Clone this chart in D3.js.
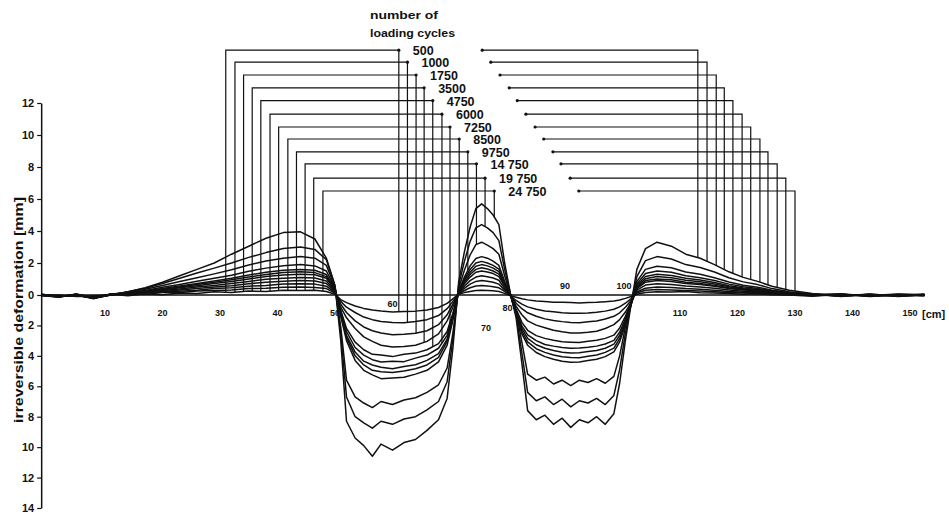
<!DOCTYPE html>
<html>
<head>
<meta charset="utf-8">
<title>Irreversible deformation vs. number of loading cycles</title>
<script src="https://d3js.org/d3.v7.min.js"></script>
<style>
  body { margin: 0; background: #fff; }
  svg text { font-family: "Liberation Sans", Arial, sans-serif; font-weight: bold; fill: #111; }
  .curve { fill: none; stroke: #111; stroke-width: 1.5; stroke-linejoin: round; }
  .leader { fill: none; stroke: #111; stroke-width: 1.2; }
</style>
</head>
<body>
<div id="chart"></div>
<script>
const width = 949;
const height = 525;

// legend labels (number of loading cycles)
const cycles = ["500", "1000", "1750", "3500", "4750", "6000", "7250", "8500", "9750", "14 750", "19 750", "24 750"];

// measuring positions along the track [cm]
const positionCm = [-1, 2, 5, 8, 11, 14, 17, 20, 23, 26, 29, 32, 35, 38, 41, 44, 46.5, 48.5, 50,
  51, 52, 53.5, 55, 56.5, 58, 60, 62, 64, 66, 68, 69.5, 70.5,
  71.5, 72.5, 73.5, 74.5, 75.5, 76.5, 77.5, 78.5, 79.5, 80.5,
  81.5, 82.5, 83.5, 85, 86.5, 88, 89.5, 91, 92.5, 94, 95.5, 97, 98.5, 99.5, 100.5, 101.5,
  102.5, 104, 106, 108.5, 111, 113.5, 116, 118.5, 121, 123.5, 126, 129, 133, 138, 143, 148, 152.5];

// irreversible deformation [mm], + = heave, - = settlement
const d500 = [0.05, -0.1, 0.0, -0.15, 0.05, -0.05, 0.08, 0.02, 0.12, 0.1, 0.2, 0.15, 0.25, 0.22, 0.3, 0.28, 0.3, 0.22, 0.05,
  -0.3, -0.5, -0.72, -0.88, -0.98, -1.05, -1.12, -1.08, -1.06, -0.98, -0.82, -0.55, -0.25,
  0.05, 0.15, 0.22, 0.28, 0.3, 0.28, 0.26, 0.22, 0.1, -0.05,
  -0.15, -0.25, -0.32, -0.4, -0.42, -0.47, -0.48, -0.5, -0.52, -0.49, -0.48, -0.44, -0.4, -0.33, -0.22, -0.1,
  0.05, 0.15, 0.2, 0.18, 0.22, 0.14, 0.12, 0.1, 0.05, 0.08, 0.02, 0.0, -0.08, 0.05, -0.1, 0.0, 0.05];
const d1000 = [-0.05, 0.0, -0.1, -0.05, 0.0, 0.06, 0.05, 0.15, 0.15, 0.25, 0.28, 0.32, 0.4, 0.42, 0.48, 0.5, 0.47, 0.4, 0.12,
  -0.42, -0.8, -1.15, -1.45, -1.62, -1.74, -1.8, -1.82, -1.74, -1.62, -1.35, -0.9, -0.42,
  0.08, 0.28, 0.45, 0.56, 0.6, 0.57, 0.52, 0.45, 0.22, -0.05,
  -0.36, -0.6, -0.78, -0.94, -1.05, -1.1, -1.17, -1.2, -1.2, -1.18, -1.14, -1.06, -0.94, -0.78, -0.54, -0.24,
  0.12, 0.3, 0.35, 0.32, 0.28, 0.25, 0.2, 0.16, 0.12, 0.1, 0.06, 0.02, 0.04, -0.08, 0.02, -0.06, 0.0];
const d1750 = [0.0, -0.12, 0.05, -0.2, 0.05, 0.05, 0.12, 0.18, 0.24, 0.3, 0.4, 0.45, 0.55, 0.6, 0.68, 0.7, 0.68, 0.55, 0.15,
  -0.6, -1.15, -1.7, -2.1, -2.35, -2.5, -2.62, -2.58, -2.52, -2.35, -1.95, -1.3, -0.6,
  0.1, 0.42, 0.68, 0.85, 0.9, 0.86, 0.8, 0.68, 0.32, -0.02,
  -0.54, -0.9, -1.17, -1.4, -1.57, -1.67, -1.75, -1.8, -1.82, -1.76, -1.71, -1.58, -1.4, -1.17, -0.81, -0.36,
  0.2, 0.42, 0.5, 0.47, 0.4, 0.36, 0.3, 0.22, 0.17, 0.14, 0.08, 0.05, -0.05, 0.04, -0.08, 0.02, -0.04];
const d3500 = [0.02, -0.05, -0.08, -0.12, 0.05, 0.08, 0.12, 0.22, 0.32, 0.4, 0.5, 0.58, 0.7, 0.8, 0.86, 0.9, 0.88, 0.72, 0.2,
  -0.8, -1.5, -2.2, -2.75, -3.05, -3.3, -3.42, -3.38, -3.3, -3.05, -2.55, -1.7, -0.8,
  0.12, 0.55, 0.9, 1.12, 1.2, 1.14, 1.06, 0.92, 0.42, 0.0,
  -0.75, -1.3, -1.7, -1.98, -2.15, -2.32, -2.42, -2.5, -2.5, -2.45, -2.38, -2.2, -1.95, -1.62, -1.12, -0.5,
  0.3, 0.62, 0.7, 0.66, 0.56, 0.5, 0.42, 0.32, 0.24, 0.19, 0.12, 0.06, 0.02, -0.06, 0.05, -0.1, 0.03];
const d4750 = [-0.05, -0.1, 0.02, -0.18, 0.02, 0.1, 0.18, 0.28, 0.38, 0.5, 0.6, 0.72, 0.85, 0.98, 1.05, 1.1, 1.06, 0.88, 0.25,
  -1.0, -2.2, -3.1, -3.6, -3.9, -3.95, -4.05, -3.9, -3.82, -3.6, -3.2, -2.4, -1.2,
  0.15, 0.7, 1.12, 1.42, 1.5, 1.44, 1.34, 1.15, 0.55, 0.02,
  -0.93, -1.8, -2.32, -2.67, -2.85, -2.98, -3.07, -3.1, -3.12, -3.04, -2.98, -2.85, -2.64, -2.17, -1.4, -0.47,
  0.4, 0.8, 0.9, 0.85, 0.72, 0.65, 0.54, 0.4, 0.31, 0.24, 0.15, 0.08, 0.0, 0.06, -0.05, 0.0, -0.06];
const d6000 = [0.03, -0.08, 0.0, -0.22, 0.06, 0.1, 0.2, 0.32, 0.45, 0.58, 0.72, 0.85, 1.0, 1.15, 1.25, 1.3, 1.26, 1.05, 0.3,
  -1.1, -2.4, -3.45, -3.95, -4.25, -4.4, -4.35, -4.38, -4.15, -3.95, -3.5, -2.65, -1.3,
  0.18, 0.8, 1.28, 1.6, 1.7, 1.62, 1.5, 1.3, 0.62, 0.0,
  -1.05, -2.03, -2.62, -3.0, -3.25, -3.36, -3.45, -3.5, -3.48, -3.43, -3.36, -3.22, -2.98, -2.45, -1.58, -0.53,
  0.45, 0.9, 1.0, 0.95, 0.8, 0.72, 0.6, 0.45, 0.34, 0.27, 0.17, 0.09, 0.05, -0.04, 0.03, -0.08, 0.02];
const d7250 = [-0.02, -0.12, 0.04, -0.15, 0.04, 0.12, 0.22, 0.36, 0.5, 0.65, 0.8, 0.95, 1.12, 1.28, 1.4, 1.45, 1.4, 1.15, 0.35,
  -1.2, -2.65, -3.75, -4.35, -4.6, -4.75, -4.85, -4.7, -4.58, -4.3, -3.85, -2.9, -1.45,
  0.2, 0.9, 1.42, 1.8, 1.9, 1.82, 1.68, 1.46, 0.7, 0.03,
  -1.14, -2.2, -2.85, -3.27, -3.5, -3.65, -3.76, -3.82, -3.8, -3.72, -3.65, -3.5, -3.23, -2.66, -1.71, -0.57,
  0.52, 1.02, 1.15, 1.08, 0.92, 0.83, 0.69, 0.52, 0.39, 0.31, 0.2, 0.1, 0.0, 0.05, -0.06, 0.04, 0.0];
const d8500 = [0.0, -0.06, -0.04, -0.2, 0.0, 0.13, 0.24, 0.4, 0.56, 0.72, 0.88, 1.05, 1.25, 1.42, 1.55, 1.6, 1.55, 1.28, 0.4,
  -1.3, -2.8, -4.0, -4.6, -4.95, -5.05, -5.1, -5.0, -4.85, -4.6, -4.1, -3.05, -1.55,
  0.22, 1.0, 1.6, 2.0, 2.1, 2.0, 1.85, 1.62, 0.76, 0.02,
  -1.23, -2.38, -3.08, -3.53, -3.77, -3.94, -4.06, -4.1, -4.12, -4.02, -3.94, -3.77, -3.49, -2.87, -1.85, -0.62,
  0.6, 1.15, 1.3, 1.22, 1.04, 0.94, 0.78, 0.58, 0.44, 0.35, 0.22, 0.12, 0.04, -0.05, 0.02, -0.04, 0.05];
const d9750 = [0.04, -0.1, 0.02, -0.25, 0.03, 0.15, 0.28, 0.48, 0.66, 0.86, 1.05, 1.24, 1.48, 1.68, 1.83, 1.9, 1.82, 1.5, 0.45,
  -1.4, -3.0, -4.3, -4.95, -5.25, -5.5, -5.45, -5.4, -5.2, -4.95, -4.4, -3.3, -1.65,
  0.25, 1.12, 1.82, 2.28, 2.4, 2.3, 2.12, 1.85, 0.86, 0.04,
  -1.32, -2.55, -3.3, -3.78, -4.05, -4.22, -4.36, -4.42, -4.4, -4.31, -4.22, -4.05, -3.74, -3.08, -1.98, -0.66,
  0.7, 1.35, 1.5, 1.42, 1.2, 1.08, 0.9, 0.68, 0.51, 0.4, 0.26, 0.14, 0.02, 0.04, -0.06, 0.02, -0.02];
const d14750 = [-0.03, -0.14, 0.06, -0.18, 0.05, 0.18, 0.36, 0.6, 0.85, 1.08, 1.32, 1.58, 1.88, 2.12, 2.3, 2.4, 2.3, 1.85, 0.5,
  -2.1, -5.6, -6.7, -7.1, -7.4, -7.0, -7.2, -6.9, -6.75, -6.4, -5.9, -4.8, -2.5,
  0.4, 1.55, 2.5, 3.15, 3.3, 3.12, 2.9, 2.55, 1.2, 0.05,
  -1.1, -3.1, -5.2, -5.6, -5.4, -5.85, -5.6, -5.95, -5.6, -5.75, -5.5, -5.8, -5.35, -4.0, -2.1, -0.45,
  0.85, 1.6, 1.8, 1.7, 1.44, 1.3, 1.08, 0.81, 0.61, 0.49, 0.3, 0.16, 0.06, -0.04, 0.04, -0.05, 0.03];
const d19750 = [0.02, -0.08, 0.0, -0.22, 0.0, 0.2, 0.42, 0.72, 1.05, 1.38, 1.68, 2.0, 2.35, 2.65, 2.9, 3.0, 2.85, 2.2, 0.55,
  -2.5, -6.7, -8.0, -8.4, -8.75, -8.3, -8.5, -8.15, -8.0, -7.55, -7.0, -5.7, -2.9,
  0.6, 2.1, 3.35, 4.2, 4.4, 4.2, 3.9, 3.4, 1.6, 0.08,
  -1.3, -3.8, -6.4, -6.95, -6.7, -7.2, -6.85, -7.35, -6.95, -7.1, -6.8, -7.2, -6.6, -4.9, -2.5, -0.5,
  1.15, 2.15, 2.4, 2.25, 1.9, 1.72, 1.44, 1.08, 0.82, 0.65, 0.4, 0.2, 0.05, 0.02, -0.04, 0.06, 0.0];
const d24750 = [0.0, -0.15, 0.05, -0.2, 0.0, 0.2, 0.45, 0.8, 1.2, 1.6, 2.0, 2.55, 3.05, 3.55, 3.9, 3.95, 3.5, 2.3, 0.6,
  -3.0, -8.3, -9.4, -9.9, -10.6, -9.8, -10.2, -9.7, -9.5, -8.9, -8.2, -6.8, -3.5,
  0.8, 2.7, 4.25, 5.4, 5.7, 5.4, 5.0, 4.4, 2.0, 0.1,
  -1.5, -4.5, -7.6, -8.2, -7.9, -8.5, -8.1, -8.7, -8.2, -8.4, -8.0, -8.5, -7.8, -5.8, -3.0, -0.6,
  1.6, 2.9, 3.3, 3.05, 2.55, 2.3, 1.9, 1.45, 1.1, 0.85, 0.55, 0.3, 0.1, -0.1, 0.05, -0.05, 0.0];

const profiles = [d500, d1000, d1750, d3500, d4750, d6000, d7250, d8500, d9750, d14750, d19750, d24750];

// axis ticks
const yTicks = [12, 10, 8, 6, 4, 2, 0, -2, -4, -6, -8, -10, -12, -14];
const xTicks = [10, 20, 30, 40, 50, 60, 70, 80, 90, 100, 110, 120, 130, 140, 150];

// leader lines from the legend to the curves (level in mm, stations in cm)
const leaderLevel = [15.3, 14.55, 13.75, 12.95, 12.15, 11.3, 10.5, 9.75, 8.95, 8.2, 7.3, 6.5];
const leftLeaderCm = [31.0, 32.6, 34.1, 35.6, 37.1, 38.7, 40.2, 41.8, 43.3, 44.8, 46.3, 47.9];
const midLeaderCm = [61.1, 62.6, 64.1, 65.5, 67.0, 68.6, 70.0, 71.6, 73.1, 74.6, 76.1, 77.7];
const rightStartCm = [75.6, 77.1, 78.7, 80.3, 81.7, 83.2, 84.8, 86.3, 87.9, 89.3, 90.9, 92.4];
const rightLeaderCm = [113.1, 114.7, 116.3, 117.7, 119.2, 120.8, 122.3, 123.9, 125.3, 126.9, 128.4, 130.0];

const x = d3.scaleLinear().domain([0, 150]).range([47.5, 910]);
// the scanned axis is slightly stretched below zero
const y = d3.scaleLinear().domain([12, 0, -14]).range([103, 295, 508]);

const svg = d3.select('#chart')
  .append('svg')
  .attr('width', width)
  .attr('height', height);

// y axis
const yAxis = d3.axisLeft(y)
  .tickValues(yTicks)
  .tickFormat(d => Math.abs(d))
  .tickSize(4)
  .tickSizeOuter(0)
  .tickPadding(3);

const yg = svg.append('g')
  .attr('transform', `translate(${x(-1.1)},0)`)
  .call(yAxis);
yg.select('.domain').attr('stroke', '#111').attr('stroke-width', 1.5);
yg.selectAll('.tick line').attr('stroke', '#111').attr('stroke-width', 1.2);
yg.selectAll('.tick text')
  .attr('fill', '#111')
  .style('font-size', '11px')
  .style('font-weight', 'bold')
  .style('font-family', '"Liberation Sans", Arial, sans-serif');

svg.append('text')
  .attr('transform', 'translate(23,310) rotate(-90)')
  .attr('text-anchor', 'middle')
  .attr('textLength', 226)
  .attr('lengthAdjust', 'spacingAndGlyphs')
  .style('font-size', '13px')
  .text('irreversible deformation [mm]');

// zero line (x axis)
svg.append('line')
  .attr('x1', x(-1.1)).attr('x2', x(152.5))
  .attr('y1', y(0)).attr('y2', y(0))
  .attr('stroke', '#111')
  .attr('stroke-width', 1.6);

// x tick labels, some moved off the curves as on the original drawing
const xLabelShift = {60: [0, -9], 70: [36, 15], 80: [0, -5], 90: [0, -27], 100: [1.5, -27]};
svg.append('g')
  .selectAll('text')
  .data(xTicks)
  .join('text')
  .attr('x', d => x(d) + (xLabelShift[d] ? xLabelShift[d][0] : 0))
  .attr('y', d => y(0) + 21 + (xLabelShift[d] ? xLabelShift[d][1] : 0))
  .attr('text-anchor', 'middle')
  .style('font-size', '9px')
  .text(d => d);

svg.append('text')
  .attr('x', x(150) + 12)
  .attr('y', y(0) + 23)
  .style('font-size', '11px')
  .text('[cm]');

// curves
const line = d3.line()
  .x((d, i) => x(positionCm[i]))
  .y(d => y(d));

svg.append('g')
  .selectAll('path')
  .data(profiles)
  .join('path')
  .attr('class', 'curve')
  .attr('d', line);

// value of a curve at any station
const valueAt = (series, cm) => d3.scaleLinear(positionCm, series)(cm);

// leaders
const lead = svg.append('g');
cycles.forEach((label, i) => {
  const lv = y(leaderLevel[i]);
  const xl = x(leftLeaderCm[i]);
  const xm = x(midLeaderCm[i]);
  lead.append('path')
    .attr('class', 'leader')
    .attr('d', `M${xl},${y(valueAt(profiles[0], leftLeaderCm[i]))}V${lv}H${xm}V${y(valueAt(profiles[i], midLeaderCm[i]))}`);
  lead.append('circle').attr('cx', xm).attr('cy', lv).attr('r', 1.6).attr('fill', '#111');

  const xs = x(rightStartCm[i]);
  const xr = x(rightLeaderCm[i]);
  lead.append('path')
    .attr('class', 'leader')
    .attr('d', `M${xs},${lv}H${xr}V${y(valueAt(profiles[11], rightLeaderCm[i]))}`);
  lead.append('circle').attr('cx', xs).attr('cy', lv).attr('r', 1.6).attr('fill', '#111');

  lead.append('text')
    .attr('x', xm + 14)
    .attr('y', lv + 5)
    .style('font-size', '12.5px')
    .text(label);
});

// legend title
svg.append('text')
  .attr('x', 370).attr('y', 19)
  .attr('textLength', 68)
  .attr('lengthAdjust', 'spacingAndGlyphs')
  .style('font-size', '11px')
  .text('number  of');
svg.append('text')
  .attr('x', 370).attr('y', 37)
  .attr('textLength', 85)
  .attr('lengthAdjust', 'spacingAndGlyphs')
  .style('font-size', '11px')
  .text('loading cycles');
</script>
</body>
</html>
